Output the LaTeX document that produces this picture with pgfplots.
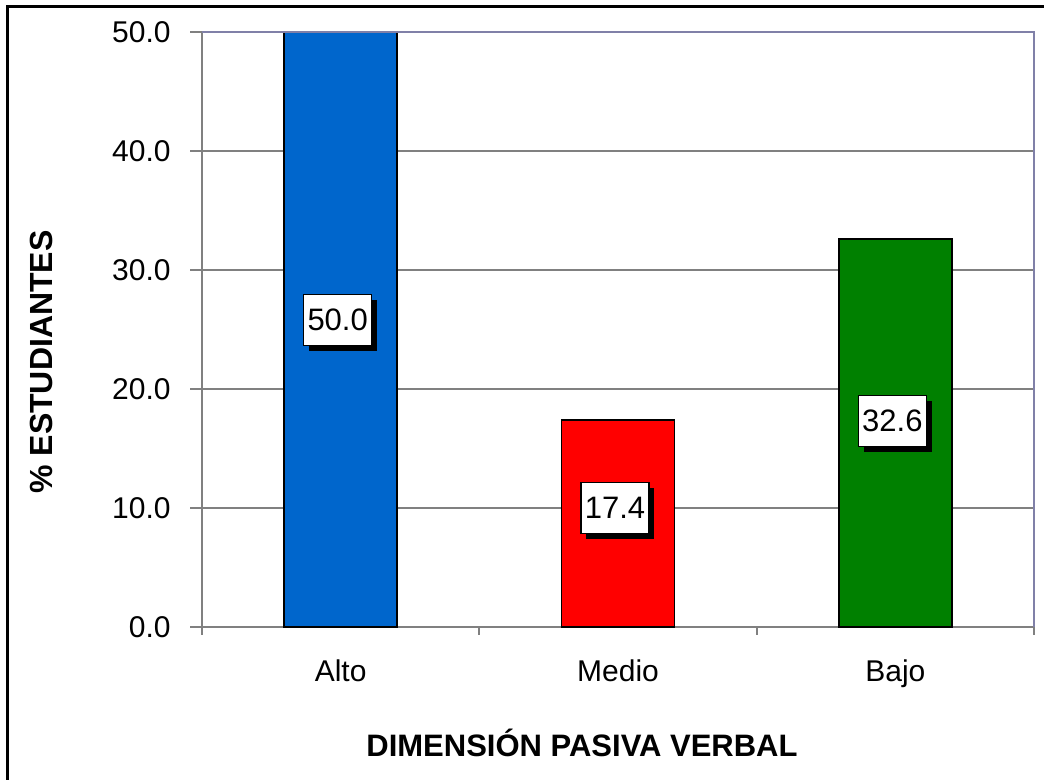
\documentclass[border=0pt]{standalone}
\usepackage{fontspec}
\setmainfont{Liberation Sans}
\usepackage{pgfplots}
\pgfplotsset{compat=1.18}
\usetikzlibrary{shadows}
\definecolor{barblue}{RGB}{0,102,204}
\definecolor{barred}{RGB}{255,0,0}
\definecolor{bargreen}{RGB}{0,128,0}
\definecolor{axgray}{RGB}{128,128,128}
\definecolor{slate}{RGB}{128,128,168}
\begin{document}
\fontsize{15}{18}\selectfont
\begin{tikzpicture}
\useasboundingbox (0,0) rectangle (522pt,390pt);
\fill[white] (0,0) rectangle (522pt,390pt);
\draw[line width=1.5pt] (3.9pt,-2pt) -- (3.9pt,386.6pt) -- (524pt,386.6pt);
\begin{axis}[
  at={(101pt,76.5pt)}, anchor=south west,
  scale only axis, width=416pt, height=297.5pt,
  xmin=-0.5, xmax=2.5, ymin=0, ymax=50,
  axis lines=left, axis line style={-, axgray, line width=1pt},
  ytick={0,10,20,30,40,50},
  /pgf/number format/fixed, /pgf/number format/fixed zerofill,
  /pgf/number format/precision=1, /pgf/number format/assume math mode=true,
  xtick={0,1,2}, xticklabels={Alto,Medio,Bajo},
  minor xtick={-0.5,0.5,1.5,2.5},
  tick align=outside,
  major tick length=6pt, minor tick length=4pt,
  major x tick style={draw=none},
  minor x tick style={axgray, line width=1pt},
  major y tick style={axgray, line width=1pt},
  ymajorgrids, grid style={axgray, line width=1pt},
  xticklabel style={yshift=-5pt},
  yticklabel style={xshift=-4.5pt},
  tick label style={font=\fontsize{15}{18}\selectfont},
  clip=false,
]
\addplot[ybar, bar shift=0pt, bar width=56.5pt, fill=barblue, draw=black, line width=0.8pt] coordinates {(0,50)};
\addplot[ybar, bar shift=0pt, bar width=56.5pt, fill=barred, draw=black, line width=0.8pt] coordinates {(1,17.4)};
\addplot[ybar, bar shift=0pt, bar width=56.5pt, fill=bargreen, draw=black, line width=0.8pt] coordinates {(2,32.6)};
\draw[slate, line width=1pt] (rel axis cs:0,1) -- (rel axis cs:1,1) -- (rel axis cs:1,0);
\addplot[draw=none, mark=none, nodes near coords, point meta=explicit symbolic,
  every node near coord/.style={anchor=center, xshift=-1.5pt, fill=white, draw=black, line width=0.6pt,
    minimum width=34pt, minimum height=25.5pt, inner sep=1pt,
    font=\fontsize{15.5}{18}\selectfont,
    drop shadow={shadow xshift=2.7pt, shadow yshift=-2.7pt, fill=black, opacity=1}}]
  coordinates {(0,25.8)[50.0] (1,10.0)[17.4] (2,17.3)[32.6]};
\end{axis}
\node[font=\bfseries\fontsize{15.5}{18}\selectfont] at (291pt,18.5pt) {DIMENSIÓN PASIVA VERBAL};
\node[font=\bfseries\fontsize{16}{18}\selectfont, rotate=90] at (20.5pt,209pt) {\% ESTUDIANTES};
\end{tikzpicture}
\end{document}
